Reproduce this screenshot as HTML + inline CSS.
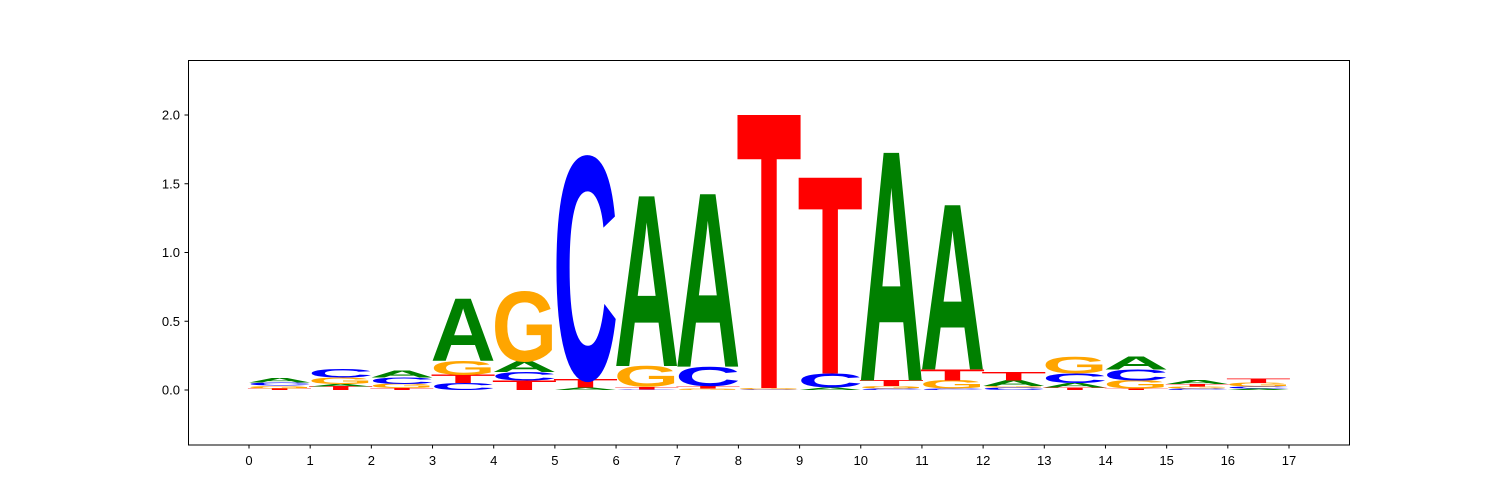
<!DOCTYPE html>
<html><head><meta charset="utf-8"><style>
body{margin:0;background:#fff;}
svg{display:block;font-family:"Liberation Sans",sans-serif;}
</style></head><body>
<svg id="chart" width="1500" height="500">
<rect x="0" y="0" width="1500" height="500" fill="#fff"/>
<g id="letters"></g>
<rect x="188.5" y="60.5" width="1161" height="384.5" fill="none" stroke="#000" stroke-width="1"/>
<g id="xaxis"></g>
<g id="yaxis"></g>
</svg>
<script>
const positions = [0,1,2,3,4,5,6,7,8,9,10,11,12,13,14,15,16];
const letterStacks = [
 [['T',0.012],['G',0.02],['C',0.022],['A',0.03]],
 [['T',0.025],['A',0.02],['G',0.045],['C',0.06]],
 [['T',0.015],['G',0.03],['C',0.045],['A',0.05]],
 [['C',0.05],['T',0.06],['G',0.1],['A',0.45]],
 [['T',0.07],['C',0.06],['A',0.08],['G',0.5]],
 [['A',0.02],['T',0.06],['C',1.6]],
 [['C',0.005],['T',0.02],['G',0.15],['A',1.23]],
 [['G',0.01],['T',0.02],['C',0.14],['A',1.25]],
 [['C',0.004],['G',0.01],['T',1.98]],
 [['A',0.02],['C',0.1],['T',1.42]],
 [['C',0.01],['G',0.02],['T',0.04],['A',1.65]],
 [['C',0.01],['G',0.06],['T',0.08],['A',1.19]],
 [['C',0.02],['G',0.01],['A',0.04],['T',0.06]],
 [['T',0.02],['A',0.03],['C',0.07],['G',0.12]],
 [['T',0.01],['G',0.06],['C',0.08],['A',0.09]],
 [['C',0.01],['G',0.015],['T',0.02],['A',0.025]],
 [['A',0.01],['C',0.015],['G',0.025],['T',0.03]]
];
const xTicks = [0,1,2,3,4,5,6,7,8,9,10,11,12,13,14,15,16,17];
const yTicks = [0,0.5,1,1.5,2];
const yTickLabels = ['0.0','0.5','1.0','1.5','2.0'];
const colors = {A:'#008000',C:'#0000ff',G:'#ffa500',T:'#ff0000'};
const NS='http://www.w3.org/2000/svg';
const xs = v => 249 + v*(1289-249)/17;
const ys = v => 390 - v*137.5;
const lg = document.getElementById('letters');
positions.forEach((p,i)=>{
  let base=0;
  letterStacks[i].forEach(([ch,h])=>{
    const x0=xs(p), w=xs(p+1)-xs(p);
    const yb=ys(base), hp=h*137.5;
    const t=document.createElementNS(NS,'text');
    
    
    t.setAttribute('x',(-w*0.035).toFixed(2));t.setAttribute('y','0');
    t.setAttribute('font-size','100');t.setAttribute('font-weight','bold');
    t.setAttribute('textLength',(w*1.07).toFixed(2));
    t.setAttribute('lengthAdjust','spacingAndGlyphs');
    t.setAttribute('fill',colors[ch]);
    t.setAttribute('transform',`translate(${x0},${yb}) scale(1,${hp/68.6})`);
    t.textContent=ch;
    lg.appendChild(t);
    base+=h;
  });
});
const xg=document.getElementById('xaxis');
xTicks.forEach(v=>{
  const x=xs(v);
  const l=document.createElementNS(NS,'line');
  
  
  l.setAttribute('x1',x);l.setAttribute('x2',x);l.setAttribute('y1',445);l.setAttribute('y2',448.5);l.setAttribute('stroke','#000');
  xg.appendChild(l);
  const t=document.createElementNS(NS,'text');
  
  
  t.setAttribute('x',x);t.setAttribute('y',465);t.setAttribute('text-anchor','middle');t.setAttribute('font-size','13');
  t.textContent=v;xg.appendChild(t);
});
const yg=document.getElementById('yaxis');
yTicks.forEach((v,i)=>{
  const y=ys(v);
  const l=document.createElementNS(NS,'line');
  
  
  l.setAttribute('x1',184.5);l.setAttribute('x2',188.5);l.setAttribute('y1',y);l.setAttribute('y2',y);l.setAttribute('stroke','#000');
  yg.appendChild(l);
  const t=document.createElementNS(NS,'text');
  
  
  t.setAttribute('x',180);t.setAttribute('y',y+4.5);t.setAttribute('text-anchor','end');t.setAttribute('font-size','13');
  t.textContent=yTickLabels[i];yg.appendChild(t);
});
</script>
</body></html>
